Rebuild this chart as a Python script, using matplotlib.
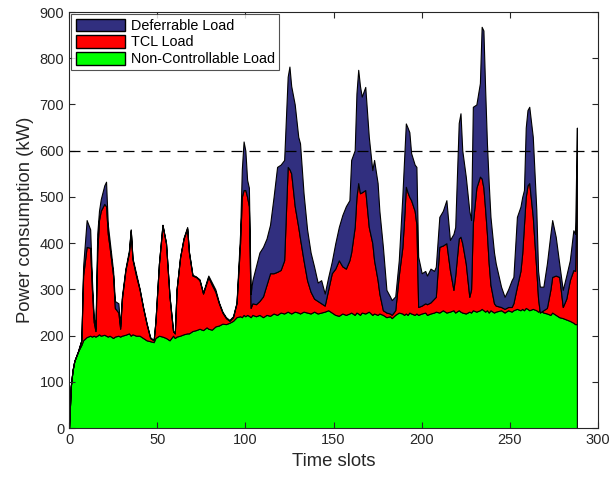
import matplotlib.pyplot as plt
from matplotlib.patches import Patch
import numpy as np

plt.rcParams['font.family'] = ['Liberation Sans', 'DejaVu Sans']

# load profile per time slot (kW): base, top of TCL, top of deferrable
slots = [0, 1, 2, 3, 5, 7, 8, 10, 12, 13, 14, 15, 16, 17, 18, 20, 21, 22, 23, 25,
         26, 28, 29, 30, 32, 34, 35, 36, 38, 40, 42, 44, 46, 48, 49, 51, 53, 55, 57, 59,
         60, 61, 63, 65, 67, 68, 70, 72, 74, 76, 78, 79, 81, 83, 85, 87, 89, 91, 93, 95,
         97, 98, 99, 100, 101, 102, 103, 104, 106, 108, 110, 112, 114, 116, 118, 120, 122, 124, 125, 126,
         128, 130, 131, 133, 135, 137, 139, 141, 143, 145, 147, 149, 151, 153, 155, 157, 159, 160, 162, 163,
         164, 165, 166, 168, 170, 172, 173, 175, 176, 178, 180, 182, 183, 185, 187, 189, 190, 191, 192, 193,
         194, 196, 197, 198, 200, 202, 203, 205, 207, 208, 210, 212, 214, 216, 218, 219, 221, 222, 223, 225,
         227, 228, 229, 231, 233, 234, 235, 236, 237, 238, 239, 241, 242, 245, 247, 249, 251, 252, 254, 256,
         257, 258, 259, 260, 261, 263, 265, 266, 267, 269, 271, 273, 274, 276, 278, 280, 282, 284, 286, 287,
         288]
base = [0, 90, 125, 145, 165, 180, 190, 197, 200, 198, 200, 198, 200, 203, 200, 202, 200, 198, 200, 195,
        198, 200, 198, 200, 202, 205, 200, 203, 200, 200, 195, 190, 188, 186, 195, 200, 198, 195, 190, 200,
        195, 198, 200, 203, 205, 205, 210, 212, 215, 212, 218, 215, 213, 220, 222, 226, 225, 228, 232, 240,
        242, 240, 245, 242, 245, 243, 240, 245, 242, 245, 240, 245, 243, 248, 245, 250, 248, 252, 250, 248,
        252, 250, 248, 252, 250, 248, 252, 248, 250, 252, 255, 250, 245, 243, 248, 245, 248, 250, 245, 250,
        248, 245, 250, 248, 252, 245, 248, 245, 248, 245, 240, 242, 238, 245, 250, 248, 245, 248, 245, 250,
        248, 245, 248, 245, 248, 250, 245, 248, 250, 252, 250, 255, 250, 252, 255, 250, 255, 252, 250, 248,
        252, 250, 255, 252, 255, 258, 255, 252, 255, 250, 255, 250, 252, 255, 250, 255, 252, 255, 258, 255,
        258, 255, 260, 258, 255, 258, 255, 252, 255, 250, 248, 245, 250, 245, 240, 238, 235, 232, 228, 225,
        225]
tcl_top = [0, 90, 125, 145, 165, 190, 330, 392, 390, 300, 230, 210, 380, 450, 470, 485, 480, 420, 392, 330,
           260, 250, 215, 280, 342, 380, 428, 365, 330, 300, 260, 225, 195, 190, 230, 356, 439, 400, 284, 210,
           205, 300, 370, 410, 432, 380, 330, 327, 320, 291, 315, 327, 310, 295, 270, 250, 238, 232, 240, 270,
           400, 500, 515, 515, 500, 480, 260, 270, 268, 275, 285, 310, 335, 335, 338, 342, 363, 565, 560, 551,
           480, 435, 410, 363, 320, 295, 280, 275, 270, 265, 300, 335, 345, 363, 350, 345, 363, 380, 435, 500,
           530, 508, 510, 515, 435, 400, 363, 320, 291, 255, 250, 248, 245, 255, 330, 390, 450, 522, 510, 500,
           493, 470, 440, 262, 265, 270, 268, 272, 280, 284, 392, 395, 400, 342, 299, 330, 410, 414, 400, 356,
           284, 300, 443, 520, 544, 540, 520, 472, 420, 356, 310, 270, 265, 262, 258, 262, 262, 270, 306, 340,
           378, 440, 500, 525, 530, 457, 342, 280, 250, 255, 260, 300, 327, 330, 327, 262, 280, 320, 342, 340,
           540]
total = [0, 90, 125, 145, 165, 190, 350, 450, 430, 320, 240, 215, 420, 470, 495, 525, 533, 440, 407, 340,
         275, 270, 220, 285, 345, 385, 430, 368, 335, 302, 262, 227, 197, 190, 230, 356, 440, 400, 285, 210,
         205, 300, 370, 412, 435, 382, 332, 328, 322, 293, 318, 330, 315, 300, 272, 252, 240, 234, 242, 272,
         420, 560, 620, 600, 537, 520, 290, 320, 350, 380, 392, 410, 440, 500, 565, 570, 580, 760, 782, 740,
         700, 630, 616, 508, 430, 380, 349, 315, 320, 291, 327, 360, 400, 435, 461, 480, 493, 580, 601, 724,
         775, 740, 717, 738, 630, 558, 580, 530, 470, 392, 299, 285, 277, 285, 363, 500, 580, 659, 650, 640,
         595, 570, 565, 371, 335, 340, 330, 345, 340, 349, 457, 470, 493, 407, 420, 435, 660, 681, 601, 544,
         470, 450, 695, 700, 746, 868, 860, 731, 616, 530, 457, 380, 356, 306, 284, 300, 320, 327, 457, 479,
         500, 515, 650, 688, 695, 630, 472, 340, 306, 306, 356, 420, 450, 414, 356, 299, 330, 363, 428, 420,
         650]

base = np.array(base)
tcl = np.array(tcl_top) - base
deferrable = np.array(total) - np.array(tcl_top)

fig = plt.figure(figsize=(6.14, 4.8), dpi=100)
ax = fig.add_axes([0.1124, 0.108, 0.8616, 0.867])

colors = ['#00ff00', '#ff0000', '#312f7f']
ax.stackplot(slots, base, tcl, deferrable, colors=colors,
             edgecolor='black', linewidth=0.8)
ax.axhline(600, color='black', linestyle=(0, (8.8, 5.6)), linewidth=0.9)

ax.set_xlim(0, 300)
ax.set_ylim(0, 900)
ax.set_xticks(range(0, 301, 50))
ax.set_yticks(range(0, 901, 100))
ax.tick_params(direction='in', top=True, right=True, labelsize=10.5,
               colors='#262626', length=4)
ax.set_xlabel('Time slots', fontsize=13.3, color='#262626')
ax.set_ylabel('Power consumption (kW)', fontsize=13.3, color='#262626')
for s in ax.spines.values():
    s.set_linewidth(0.8)
    s.set_color('#262626')

handles = [Patch(facecolor=colors[2], edgecolor='black', label='Deferrable Load'),
           Patch(facecolor=colors[1], edgecolor='black', label='TCL Load'),
           Patch(facecolor=colors[0], edgecolor='black', label='Non-Controllable Load')]
leg = ax.legend(handles=handles, loc='upper left', bbox_to_anchor=(0.0, 1.0),
                fontsize=10.4, fancybox=False, edgecolor='#262626',
                handlelength=3.4, handleheight=1.0, labelspacing=0.15,
                borderpad=0.3, handletextpad=0.45, borderaxespad=0.15)
leg.get_frame().set_linewidth(0.8)

fig.savefig('out.png', dpi=100)
